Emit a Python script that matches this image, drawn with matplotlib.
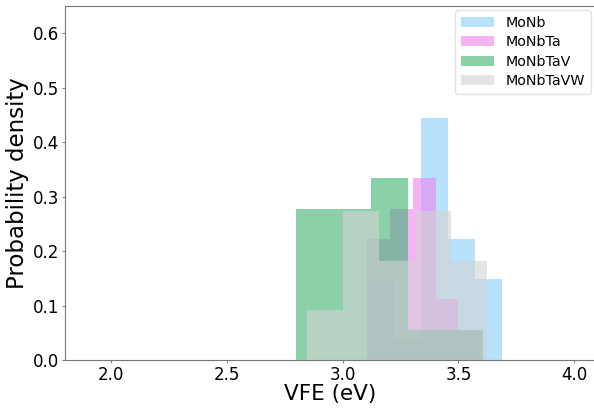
import matplotlib
matplotlib.use("Agg")
import matplotlib.pyplot as plt
import numpy as np

# values (bin edges in eV, counts per bin, sample size)
labels = ['MoNb', 'MoNbTa', 'MoNbTaV', 'MoNbTaVW']
colors = ['lightskyblue', 'violet', 'mediumseagreen', 'lightgray']

monb_edges = [3.105, 3.222, 3.339, 3.456, 3.573, 3.690]
monb_counts = [4, 1, 12, 6, 4]
monb_n = 27

monbta_edges = [3.107, 3.205, 3.303, 3.402, 3.500, 3.598]
monbta_counts = [4, 5, 6, 2, 1]
monbta_n = 18

monbtav_edges = [2.797, 2.959, 3.121, 3.282, 3.444, 3.606]
monbtav_counts = [5, 5, 6, 1, 1]
monbtav_n = 18

monbtavw_edges = [2.847, 3.002, 3.157, 3.312, 3.467, 3.622]
monbtavw_counts = [1, 3, 2, 3, 2]
monbtavw_n = 11

series = [
    (monb_edges, monb_counts, monb_n),
    (monbta_edges, monbta_counts, monbta_n),
    (monbtav_edges, monbtav_counts, monbtav_n),
    (monbtavw_edges, monbtavw_counts, monbtavw_n),
]

fig = plt.figure(figsize=(5.94, 4.09), dpi=100)
ax = fig.add_axes([65 / 594, 49 / 409, 530 / 594, 354 / 409])

for (edges, counts, n), label, color in zip(series, labels, colors):
    edges = np.array(edges)
    weights = np.array(counts) / n
    ax.hist(edges[:-1], bins=edges, weights=weights, color=color, alpha=0.6, label=label)

ax.set_xlim(1.8, 4.09)
ax.set_ylim(0, 0.65)
ax.set_xticks([2.0, 2.5, 3.0, 3.5, 4.0])
ax.set_xlabel('VFE (eV)', fontsize=15.5, labelpad=0)
ax.set_ylabel('Probability density', fontsize=16.5, labelpad=3)
ax.tick_params(labelsize=12, length=2.2, width=0.6, pad=2, color='#666666')
for sp in ax.spines.values():
    sp.set_linewidth(0.8)
    sp.set_color('#777777')
ax.legend(loc='upper right', fontsize=10.3, borderaxespad=0.3, labelspacing=0.38,
          handlelength=2.3, edgecolor='#dddddd')

fig.savefig('out.png', dpi=100)
